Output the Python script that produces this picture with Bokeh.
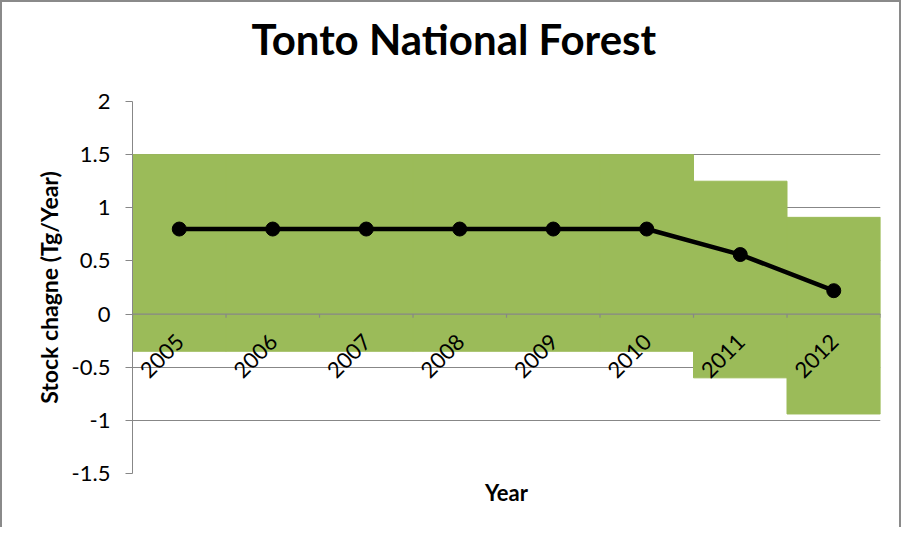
import numpy as np
from bokeh.plotting import figure
from bokeh.models import Range1d, FixedTicker, Span, ColumnDataSource, Title
from bokeh.core.properties import value
from bokeh.embed import file_html
from bokeh.resources import INLINE

# ---- data ----
years = ["2005", "2006", "2007", "2008", "2009", "2010", "2011", "2012"]
stock_change = [0.80, 0.80, 0.80, 0.80, 0.80, 0.80, 0.56, 0.22]
range_upper = [1.50, 1.50, 1.50, 1.50, 1.50, 1.50, 1.25, 0.91]
range_lower = [-0.35, -0.35, -0.35, -0.35, -0.35, -0.35, -0.60, -0.94]
y_ticks = [-1.5, -1.0, -0.5, 0.0, 0.5, 1.0, 1.5, 2.0]
y_tick_labels = ["-1.5", "-1", "-0.5", "0", "0.5", "1", "1.5", "2"]

title_text = "Tonto National Forest"
y_label = "Stock chagne (Tg/Year)"
x_label = "Year"

GREEN = "#9BBB59"
GRID = "#878787"
FONT = "Lato"

n = len(years)
xc = np.arange(n) + 0.5
bounds = np.arange(n + 1)

src = ColumnDataSource(dict(x=xc, year=years, val=stock_change,
                            top=range_upper, bottom=range_lower,
                            zero=[0.0] * n))

p = figure(width=901, height=527, output_backend="svg", toolbar_location=None,
           x_range=Range1d(0, n), y_range=Range1d(y_ticks[0], y_ticks[-1]),
           min_border_left=130, min_border_right=23, min_border_top=99,
           min_border_bottom=56)
p.styles = {"border-left": "2px solid #8a8a8a", "border-top": "2px solid #8a8a8a",
            "border-right": "2px solid #8a8a8a"}
p.outline_line_color = None
p.background_fill_color = "white"
p.border_fill_color = "white"

# title: spacer panel next to the frame, then the title text above it
p.title.visible = False
p.add_layout(Title(text=" ", text_font_size="1px", standoff=35), "above")
p.add_layout(Title(text=title_text, align="left", offset=119, standoff=0,
                   text_font=FONT, text_font_size="42px", text_font_style="bold",
                   text_color="black"), "above")

# grids
p.xgrid.grid_line_color = None
p.ygrid.grid_line_color = GRID
p.ygrid.grid_line_width = 1
p.ygrid.ticker = FixedTicker(ticks=y_ticks)

# y axis
ya = p.yaxis[0]
ya.ticker = FixedTicker(ticks=y_ticks)
ya.major_label_overrides = {t: s for t, s in zip(y_ticks, y_tick_labels)}
ya.minor_tick_line_color = None
ya.major_tick_in = 0
ya.major_tick_out = 7
ya.major_tick_line_color = GRID
ya.axis_line_color = GRID
ya.major_label_text_font = FONT
ya.major_label_text_font_size = "22px"
ya.major_label_text_color = "black"
ya.major_label_standoff = 15
ya.axis_label = y_label
ya.axis_label_text_font = FONT
ya.axis_label_text_font_size = "23px"
ya.axis_label_text_font_style = "bold"
ya.axis_label_text_color = "black"
ya.axis_label_standoff = 6

# x axis (label only; category axis drawn at y=0 below)
xa = p.xaxis[0]
xa.ticker = FixedTicker(ticks=[])
xa.axis_line_color = None
xa.major_tick_line_color = None
xa.minor_tick_line_color = None
xa.major_tick_out = 0
xa.major_label_standoff = 0
xa.axis_label = x_label
xa.axis_label_text_font = FONT
xa.axis_label_text_font_size = "22px"
xa.axis_label_text_font_style = "bold"
xa.axis_label_text_color = "black"
xa.axis_label_standoff = 5

# uncertainty range bars
p.vbar(x="x", width=1.0, top="top", bottom="bottom", source=src,
       fill_color=GREEN, line_color=GREEN, line_width=1)

# zero axis line and category boundary ticks
p.add_layout(Span(location=0, dimension="width", line_color=GRID, line_width=1.2))
p.segment(x0=bounds, y0=[0.0] * (n + 1), x1=bounds, y1=[-0.034] * (n + 1),
          line_color=GRID, line_width=1.2)

# category labels (rotated)
p.text(x="x", y="zero", text="year", source=src, angle=np.pi / 4,
       text_align="right", text_baseline="middle", x_offset=1, y_offset=24,
       text_font=value(FONT), text_font_size="22px", text_color="black")

# line with markers
p.line(x="x", y="val", source=src, line_color="black", line_width=4.5)
p.scatter(x="x", y="val", source=src, size=14, marker="circle",
          fill_color="black", line_color="black")

open("out.html", "w").write(file_html(p, INLINE))
